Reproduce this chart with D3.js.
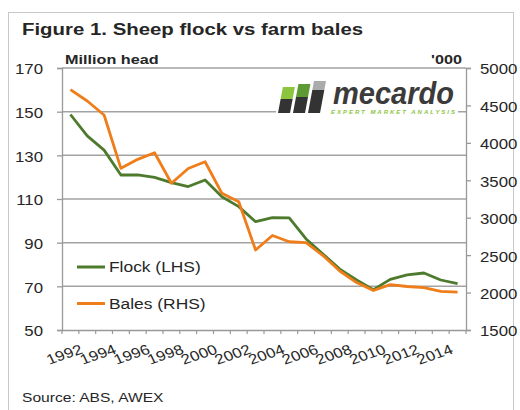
<!DOCTYPE html>
<html><head><meta charset="utf-8">
<script src="https://cdn.jsdelivr.net/npm/d3@7"></script>
<style>body{margin:0;background:#fff}svg{display:block}</style>
</head><body><svg id="c" width="520" height="410"></svg>
<script>
const years = ["1992","1993","1994","1995","1996","1997","1998","1999","2000","2001","2002","2003","2004","2005","2006","2007","2008","2009","2010","2011","2012","2013","2014","2015"];
const flock = [148.7,138.9,132.4,121.0,121.0,119.9,117.5,115.7,118.7,111.0,106.5,99.6,101.5,101.4,91.7,84.8,77.9,72.9,68.5,73.2,75.2,76.1,72.9,71.2];
const bales = [4710,4559,4372,3660,3780,3868,3460,3657,3748,3326,3214,2569,2762,2679,2666,2495,2288,2134,2027,2107,2081,2067,2017,2005];
const leftTicks = [50,70,90,110,130,150,170];
const rightTicks = [1500,2000,2500,3000,3500,4000,4500,5000];
const seriesNames = ["Flock (LHS)","Bales (RHS)"];
const colors = ["#4e7a2c","#ef7d1a"];

const SX = 1.2;
const FONT = "'Liberation Sans', Arial, sans-serif";
const TXT = "#262626";
const svg = d3.select("#c");
svg.append("rect").attr("x",8.5).attr("y",12.5).attr("width",505).attr("height",420)
  .attr("fill","#fff").attr("stroke","#c8c8c8");

function stext(x,y,str,o={}){
  const t = svg.append("text")
    .attr("transform",`translate(${x},${y}) scale(${SX},1)` + (o.rot?` rotate(${o.rot})`:""))
    .attr("font-family",FONT).attr("font-size",o.size||14)
    .attr("font-weight",o.bold?"bold":"normal").attr("fill",o.fill||TXT)
    .attr("text-anchor",o.anchor||"start").text(str);
  return t;
}

const L=62, R=466, T=68, B=330;
const x = d3.scaleBand().domain(years).range([L,R]);
const yL = d3.scaleLinear().domain([50,170]).range([B,T]);
const yR = d3.scaleLinear().domain([1500,5000]).range([B,T]);

// gridlines
svg.append("g").selectAll("line").data(leftTicks.filter(d=>d>50)).join("line")
  .attr("x1",L).attr("x2",R).attr("y1",d=>yL(d)).attr("y2",d=>yL(d))
  .attr("stroke","#a3a3a3").attr("stroke-width",1.5);

// left axis
const gl = svg.append("g").attr("transform",`translate(${L},0)`)
  .call(d3.axisLeft(yL).tickValues(leftTicks).tickSize(5).tickPadding(14).tickFormat(d3.format("d")));
gl.selectAll("path,line").attr("stroke","#999").attr("stroke-width",1.3);
gl.selectAll("text").attr("x",0).attr("dy","0.42em")
  .attr("transform",`translate(-19,0) scale(${SX},1)`)
  .attr("font-family",FONT).attr("font-size",14).attr("fill",TXT);

// right axis
const gr = svg.append("g").attr("transform",`translate(${R},0)`)
  .call(d3.axisRight(yR).tickValues(rightTicks).tickSize(5).tickPadding(9).tickFormat(d3.format("d")));
gr.selectAll("path,line").attr("stroke","#999").attr("stroke-width",1.3);
gr.selectAll("text").attr("x",0).attr("dy","0.42em")
  .attr("transform",`translate(14,0) scale(${SX},1)`)
  .attr("font-family",FONT).attr("font-size",14).attr("fill",TXT);

// bottom axis
const gb = svg.append("g").attr("transform",`translate(0,${B})`)
  .call(d3.axisBottom(x).tickSize(0).tickFormat(d=>(+d%2===0 && +d<2015)?d:""));
gb.select("path").attr("stroke","#999").attr("stroke-width",1.3);
gb.selectAll("text").attr("x",0).attr("y",0).attr("dy",0).attr("text-anchor","end")
  .attr("transform",`translate(${x.bandwidth()/2+5},23) scale(${SX},1) rotate(-22)`)
  .attr("font-family",FONT).attr("font-size",14).attr("fill",TXT);
svg.append("g").selectAll("line").data(years.map(d=>x(d)).concat([R])).join("line")
  .attr("x1",d=>d).attr("x2",d=>d).attr("y1",B).attr("y2",B+4)
  .attr("stroke","#999").attr("stroke-width",1.2);

// lines
const lineL = d3.line().x((d,i)=>x(years[i])+x.bandwidth()/2).y(d=>yL(d));
const lineR = d3.line().x((d,i)=>x(years[i])+x.bandwidth()/2).y(d=>yR(d));
svg.append("path").datum(flock).attr("d",lineL).attr("fill","none")
  .attr("stroke",colors[0]).attr("stroke-width",2.8).attr("stroke-linejoin","round");
svg.append("path").datum(bales).attr("d",lineR).attr("fill","none")
  .attr("stroke",colors[1]).attr("stroke-width",2.8).attr("stroke-linejoin","round");

// legend
[267,303.5].forEach((ly,i)=>{
  svg.append("line").attr("x1",77).attr("x2",105).attr("y1",ly).attr("y2",ly)
    .attr("stroke",colors[i]).attr("stroke-width",3);
  stext(109,ly+5,seriesNames[i],{size:14.5});
});

// titles
stext(22,35,"Figure 1. Sheep flock vs farm bales",{size:17,bold:true});
stext(65,64,"Million head",{size:13.5,bold:true});
stext(462,64,"'000",{size:13.5,bold:true,anchor:"end"});
stext(22,402,"Source: ABS, AWEX",{size:13});

// logo
const lg = svg.append("g");
lg.append("rect").attr("x",276).attr("y",78).attr("width",182).attr("height",38).attr("fill","#fff");
const cols = [{top:87,mid:99,c:"#8cc63f"},{top:84,mid:97,c:"#5e9a33"},{top:81,mid:90,c:"#ababab"}];
cols.forEach((c,i)=>{
  const x0 = 278+i*15, w=12, bot=113, sk=6;
  const xa = y => x0 + sk*(bot-y)/(bot-81);
  lg.append("path").attr("d",`M${xa(c.top)},${c.top}L${xa(c.top)+w},${c.top}L${xa(c.mid)+w},${c.mid}L${xa(c.mid)},${c.mid}Z`).attr("fill",c.c);
  lg.append("path").attr("d",`M${xa(c.mid)},${c.mid}L${xa(c.mid)+w},${c.mid}L${x0+w},${bot}L${x0},${bot}Z`).attr("fill","#333");
});
lg.append("text").attr("x",333).attr("y",104).attr("font-family",FONT).attr("font-size",31)
  .attr("font-weight","bold").attr("font-style","italic").attr("fill","#3b3b3b")
  .attr("textLength",121).attr("lengthAdjust","spacingAndGlyphs").text("mecardo");
lg.append("text").attr("x",331).attr("y",113.5).attr("font-family",FONT).attr("font-size",6)
  .attr("font-weight","bold").attr("font-style","italic").attr("fill","#8cc63f")
  .attr("textLength",124).attr("lengthAdjust","spacing").text("EXPERT MARKET ANALYSIS");
</script></body></html>
